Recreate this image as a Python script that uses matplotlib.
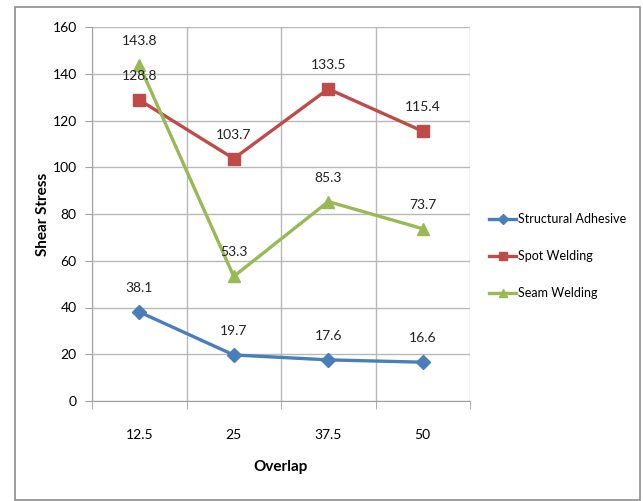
import matplotlib
matplotlib.use("Agg")
import matplotlib.pyplot as plt
from matplotlib.patches import Rectangle

plt.rcParams["font.family"] = ["Lato", "DejaVu Sans"]

overlap = ["12.5", "25", "37.5", "50"]
structural_adhesive = [38.1, 19.7, 17.6, 16.6]
spot_welding = [128.8, 103.7, 133.5, 115.4]
seam_welding = [143.8, 53.3, 85.3, 73.7]

series = [
    ("Structural Adhesive", structural_adhesive, "#4A7EBB", "D", 7),
    ("Spot Welding", spot_welding, "#BE4B48", "s", 8),
    ("Seam Welding", seam_welding, "#98B954", "^", 8),
]

fig = plt.figure(figsize=(6.43, 5.01), dpi=100)
fig.patches.append(Rectangle((15 / 643, 1 / 501), 625 / 643, 493 / 501,
                             transform=fig.transFigure, fill=False,
                             edgecolor="#8c8c8c", linewidth=1.2))
ax = fig.add_axes([92 / 643, 100 / 501, 378 / 643, 374 / 501])

x = list(range(len(overlap)))
for name, vals, color, marker, ms in series:
    ax.plot(x, vals, color=color, linewidth=2.4, marker=marker,
            markersize=ms, label=name)
    for xi, v in zip(x, vals):
        ax.annotate(f"{v}", (xi, v), xytext=(0, 13), textcoords="offset points",
                    ha="center", va="bottom", fontsize=10, color="#222222")

ax.set_xlim(-0.5, len(overlap) - 0.5)
ax.set_ylim(0, 160)
ax.set_yticks(range(0, 161, 20))
ax.set_xticks(x)
ax.set_xticklabels(overlap)
ax.set_xticks([i - 0.5 for i in range(len(overlap) + 1)], minor=True)
ax.tick_params(axis="x", which="major", length=0, pad=20, labelsize=10)
ax.tick_params(axis="x", which="minor", length=6, color="#a0a0a0")
ax.tick_params(axis="y", length=5, color="#a0a0a0", labelsize=10, pad=6)
ax.grid(True, axis="y", which="major", color="#b8b8b8", linewidth=1)
ax.grid(True, axis="x", which="minor", color="#b8b8b8", linewidth=1)
ax.set_axisbelow(True)
for side in ["top", "right"]:
    ax.spines[side].set_visible(False)
ax.spines["left"].set_color("#a0a0a0")
ax.spines["bottom"].set_color("#a0a0a0")

ax.set_xlabel("Overlap", fontsize=11, fontweight="bold", labelpad=14)
ax.set_ylabel("Shear Stress", fontsize=11, fontweight="bold", labelpad=2)

leg = ax.legend(loc="center left", bbox_to_anchor=(1.02, 0.388), frameon=False,
                fontsize=9, handlelength=2.2, handletextpad=0.1,
                labelspacing=2.0, markerscale=0.75)

fig.savefig("out.png", dpi=100)
